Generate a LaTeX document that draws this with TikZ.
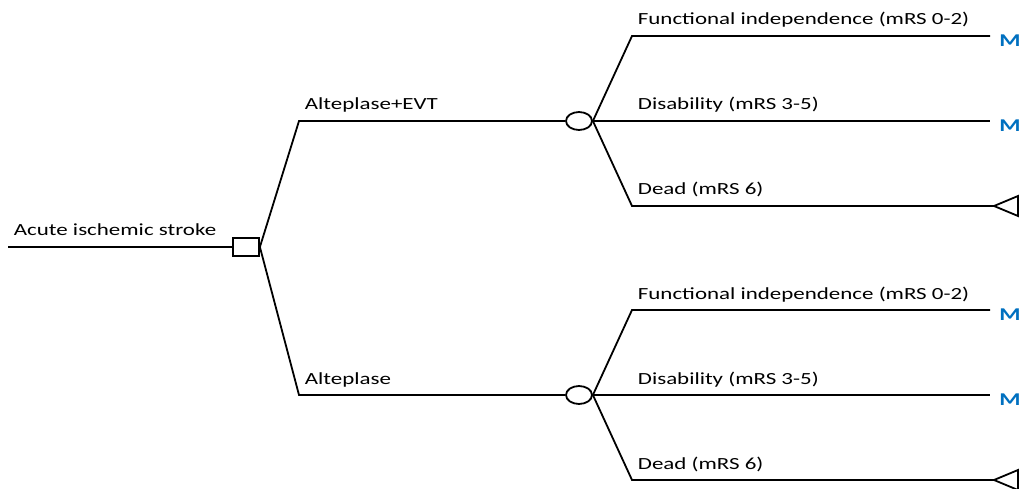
\documentclass[tikz,border=0pt]{standalone}
\usepackage{fontspec}
\setmainfont{Carlito}[FakeStretch=1.35]
\usepackage{tikz}
\usetikzlibrary{shapes.geometric}
\definecolor{mblue}{RGB}{0,112,192}

\begin{document}
\begin{tikzpicture}[x=1pt, y=-1pt, line width=1.8pt,
  decision/.style={draw, rectangle, minimum width=26pt, minimum height=18pt, inner sep=0pt},
  chance/.style={draw, ellipse, minimum width=26pt, minimum height=18pt, inner sep=0pt},
  label/.style={anchor=base west, inner sep=0pt, font=\fontsize{17}{20}\selectfont},
  markov/.style={text=mblue, font=\fontsize{18}{20}\selectfont\bfseries, inner sep=0pt}
]
  \useasboundingbox (0,0) rectangle (1020,489);

  % decision node and root
  \coordinate (root) at (8,247);
  \node[decision] (D) at (246,247) {};
  \draw (root) -- (D.west);
  \node[label] (tRoot) at (13,236) {Acute ischemic stroke};

  % strategies
  \coordinate (s1) at (299,121);
  \coordinate (s2) at (299,395);
  \node[chance] (C1) at (579,121) {};
  \node[chance] (C2) at (579,395) {};
  \draw (D.east) -- (s1) -- (C1.west);
  \draw (D.east) -- (s2) -- (C2.west);
  \node[label] (tS1) at (304,110) {Alteplase+EVT};
  \node[label] (tS2) at (304,384) {Alteplase};

  % outcomes, upper arm
  \coordinate (a1) at (632,36);
  \coordinate (a3) at (632,206);
  \node[markov] (M1) at (1010,41) {M};
  \node[markov] (M2) at (1010,126) {M};
  \coordinate (e1) at (990,36);
  \coordinate (e2) at (990,121);
  \coordinate (e3) at (994,206);
  \draw (C1.east) -- (a1) -- (e1);
  \draw (C1.east) -- (e2);
  \draw (C1.east) -- (a3) -- (e3);
  \draw (e3) -- (1018,196) -- (1018,216) -- cycle;
  \node[label] (tA1) at (637,25) {Functional independence (mRS 0-2)};
  \node[label] (tA2) at (637,110) {Disability (mRS 3-5)};
  \node[label] (tA3) at (637,195) {Dead (mRS 6)};

  % outcomes, lower arm
  \coordinate (b1) at (632,310);
  \coordinate (b3) at (632,480);
  \node[markov] (M3) at (1010,315) {M};
  \node[markov] (M4) at (1010,400) {M};
  \coordinate (f1) at (990,310);
  \coordinate (f2) at (990,395);
  \coordinate (f3) at (994,480);
  \draw (C2.east) -- (b1) -- (f1);
  \draw (C2.east) -- (f2);
  \draw (C2.east) -- (b3) -- (f3);
  \draw (f3) -- (1018,470) -- (1018,490) -- cycle;
  \node[label] (tB1) at (637,299) {Functional independence (mRS 0-2)};
  \node[label] (tB2) at (637,384) {Disability (mRS 3-5)};
  \node[label] (tB3) at (637,469) {Dead (mRS 6)};
\end{tikzpicture}
\end{document}
